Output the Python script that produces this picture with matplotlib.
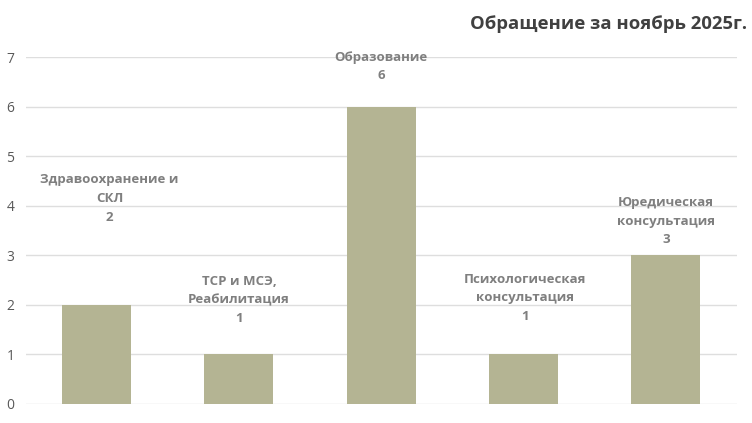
import matplotlib.pyplot as plt

categories = ['Здравоохранение и\nСКЛ', 'ТСР и МСЭ,\nРеабилитация', 'Образование',
              'Психологическая\nконсультация', 'Юредическая\nконсультация']
values = [2, 1, 6, 1, 3]
yticks = [0, 1, 2, 3, 4, 5, 6, 7]

# where the data labels sit (centre of label block, in data units)
label_y = [4.15, 2.10, 6.81, 2.14, 3.69]
label_dx = [0.09, 0, 0, 0.01, 0]

plt.rcParams['font.family'] = ['Open Sans', 'DejaVu Sans']

fig = plt.figure(figsize=(7.52, 4.23), dpi=100)
ax = fig.add_axes([0.034, 0.045, 0.946, 0.82])

x = range(len(values))
ax.bar(x, values, width=0.485, color='#b4b493', zorder=2)
ax.set_xlim(-0.5, len(values) - 0.5)
ax.set_ylim(0, 7)
ax.set_yticks(yticks)
ax.set_xticks([])
ax.grid(axis='y', color='#dedede', linewidth=1, zorder=0)
for s in ax.spines.values():
    s.set_visible(False)
ax.tick_params(axis='y', length=0, labelsize=10, colors='#595959', pad=8)

for i, (cat, v) in enumerate(zip(categories, values)):
    ax.text(i + label_dx[i], label_y[i], f'{cat}\n{v}', ha='center', va='center',
            fontsize=9.5, fontweight='bold', color='#7f7f7f', linespacing=1.58, zorder=3)

fig.text(0.993, 0.944, 'Обращение за ноябрь 2025г.', ha='right', va='center',
         fontsize=13.3, fontweight='bold', color='#404040')

fig.savefig('out.png', dpi=100)
